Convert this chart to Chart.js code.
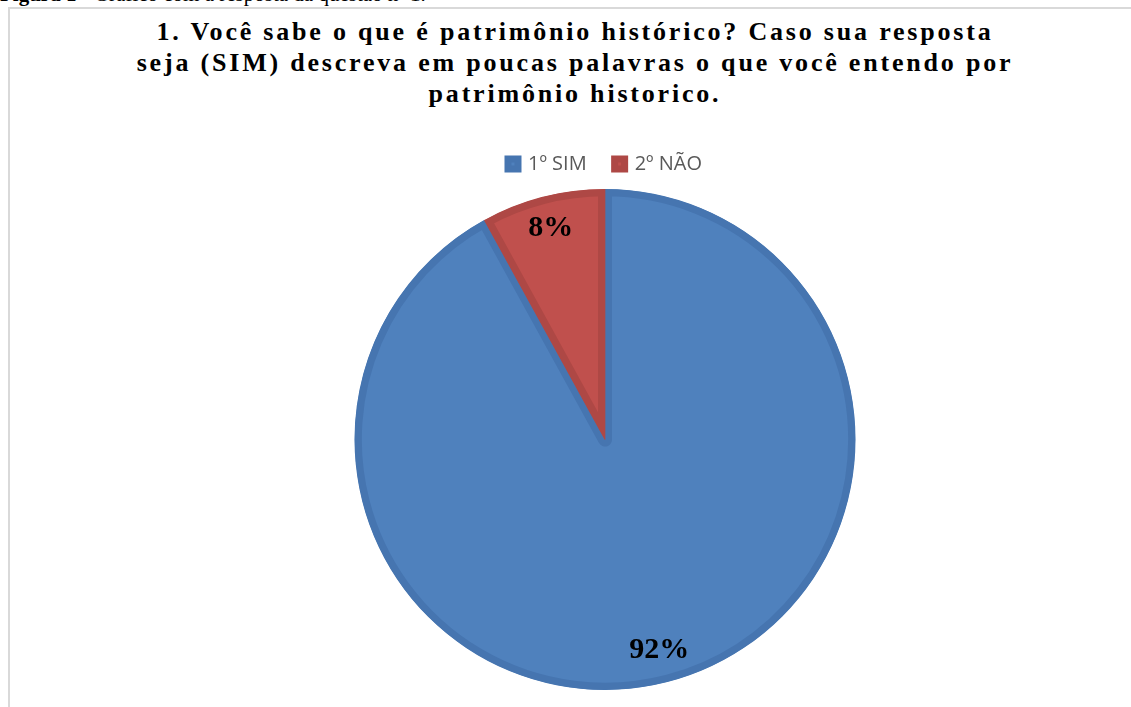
<!DOCTYPE html>
<html>
<head>
<meta charset="utf-8">
<script src="https://cdn.jsdelivr.net/npm/chart.js@4.4.0/dist/chart.umd.min.js"></script>
<style>
    body { margin: 0; background: #fff; width: 1131px; height: 707px; overflow: hidden; position: relative; }
    #legenda { position: absolute; left: 0; top: -16px; font-family: "Liberation Serif", serif; font-size: 21px; line-height: 20px; color: #000; white-space: nowrap; }
    #caixa { position: absolute; left: 8px; top: 7px; width: 1140px; height: 710px; border: 2px solid #d9d9d9; box-sizing: border-box; }
    #titulo { position: absolute; left: 8px; top: 16px; width: 1134px; text-align: center; font-family: "Liberation Serif", serif; font-weight: bold; font-size: 26px; line-height: 31px; letter-spacing: 2.8px; color: #000; }
    #grafico { position: absolute; left: 8px; top: 126px; width: 1134px; height: 564px; }
</style>
</head>
<body>
<div id="legenda"><b>Figura 1</b> - Gráfico com a resposta da questão nº 1.</div>
<div id="caixa"></div>
<div id="titulo">1. Você sabe o que é patrimônio histórico? Caso sua resposta<br>seja (SIM) descreva em poucas palavras o que você entendo por<br>patrimônio historico.</div>
<div id="grafico"><canvas id="pizza"></canvas></div>
<script>
// dados da questão 1
const categorias = ['1º SIM', '2º NÃO'];
const valores = [92, 8];
const rotulos = ['92%', '8%'];

const coresFundo = ['#4F81BD', '#C0504D'];
const coresBorda = ['#4675B0', '#AE4845'];

// desenha as porcentagens dentro das fatias
const rotulosPlugin = {
    id: 'rotulosPizza',
    afterDatasetsDraw(chart) {
        const ctx = chart.ctx;
        const meta = chart.getDatasetMeta(0);
        ctx.save();
        ctx.font = 'bold 30px "Liberation Serif", serif';
        ctx.fillStyle = '#000';
        ctx.textAlign = 'center';
        ctx.textBaseline = 'middle';
        meta.data.forEach((arco, i) => {
            const p = arco.getProps(['x', 'y', 'startAngle', 'endAngle', 'outerRadius'], true);
            const meio = (p.startAngle + p.endAngle) / 2;
            const d = p.outerRadius * 0.87;
            ctx.fillText(rotulos[i], p.x + Math.cos(meio) * d, p.y + Math.sin(meio) * d);
        });
        ctx.restore();
    }
};

// ajusta o espaço entre a legenda e a pizza
const espacoLegenda = {
    id: 'espacoLegenda',
    beforeInit(chart) {
        const fitOriginal = chart.legend.fit;
        chart.legend.fit = function () {
            fitOriginal.bind(chart.legend)();
            this.height += 5;
        };
    }
};

new Chart(document.getElementById('pizza'), {
    type: 'pie',
    data: {
        labels: categorias,
        datasets: [{
            data: valores,
            backgroundColor: coresFundo,
            borderColor: coresBorda,
            borderWidth: 7,
            borderAlign: 'inner'
        }]
    },
    options: {
        responsive: true,
        maintainAspectRatio: false,
        animation: false,
        layout: { padding: { left: 60, right: 0, top: 0, bottom: 0 } },
        plugins: {
            legend: {
                position: 'top',
                labels: {
                    boxWidth: 10,
                    boxHeight: 10,
                    padding: 28,
                    color: '#595959',
                    font: { family: '"Open Sans", sans-serif', size: 20 }
                }
            },
            tooltip: { enabled: false }
        }
    },
    plugins: [espacoLegenda, rotulosPlugin]
});
</script>
</body>
</html>
